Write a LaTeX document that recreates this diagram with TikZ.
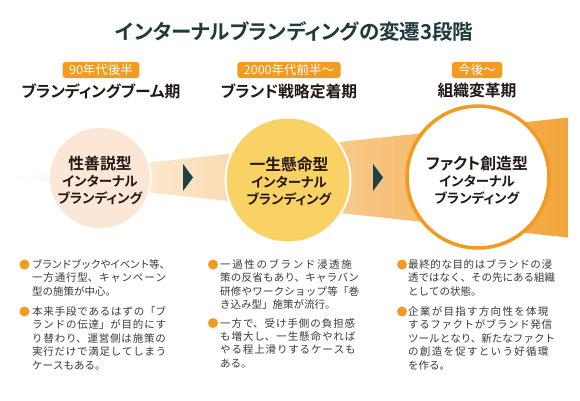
\documentclass[tikz,border=0pt]{standalone}
\usepackage{fontspec}
\setmainfont{Noto Sans CJK JP}[BoldFont={Noto Sans CJK JP Bold}]
\newfontfamily\jpp{Noto Sans CJK JP}[BoldFont={Noto Sans CJK JP Bold},RawFeature=+palt]
\definecolor{titleteal}{HTML}{1F3B3E}
\definecolor{orangeM}{HTML}{F29B20}
\definecolor{bandR}{HTML}{F2A43A}
\definecolor{peach}{HTML}{FCE6D5}
\definecolor{gold}{HTML}{FAD164}
\definecolor{triteal}{HTML}{1C4146}
\definecolor{darktext}{HTML}{231815}
\definecolor{bodytext}{HTML}{3A3A3A}
\newcommand{\bodysetup}{\XeTeXlinebreaklocale "ja"\XeTeXlinebreakskip=0pt plus 4pt minus 0.8pt\relax
  \tolerance=10000 \hbadness=10000 \leftskip=0pt \rightskip=0pt \parfillskip=0pt plus 1fil\relax}
\begin{document}
\begin{tikzpicture}[x=1pt,y=-1pt,
  titlestyle/.style={font=\jpp\bfseries\fontsize{20.5pt}{24pt}\selectfont, text=titleteal, inner sep=0pt},
  badge/.style={fill=orangeM, rounded corners=3pt, text=white, font=\fontsize{12.5pt}{14pt}\selectfont, minimum height=16pt, inner xsep=6.5pt, inner ysep=0pt},
  period/.style={font=\jpp\bfseries\fontsize{15.8pt}{18pt}\selectfont, text=darktext, inner sep=0pt},
  stage/.style={circle, inner sep=0pt, minimum size=#1},
  circtext/.style={align=center, text=darktext, inner sep=0pt, font=\jpp\bfseries\fontsize{13.5pt}{17pt}\selectfont},
  mainf/.style={},
  dot/.style={circle, fill=orangeM, minimum size=10pt, inner sep=0pt},
  body/.style={anchor=base west, inner sep=0pt, text width=#1, text=bodytext, font=\fontsize{10.5pt}{13.4pt}\selectfont},
  arrowtri/.style={fill=triteal}
]
\useasboundingbox (0,0) rectangle (580,400);
\fill[white] (0,0) rectangle (580,400);

% title
\node[titlestyle] (title) at (294.5,32) {インターナルブランディングの変遷3段階};

% badges and periods
\node[badge] (bd1) at (101,70) {90年代後半};
\node[badge] (bd2) at (289,70) {2000年代前半～};
\node[badge] (bd3) at (477,70) {今後～};
\node[period] (pr1) at (101,91) {ブランディングブーム期};
\node[period] (pr2) at (289,91) {ブランド戦略定着期};
\node[period] (pr3) at (477,91) {組織変革期};

% band
\shade[left color=white, right color=bandR] (10,177.5) -- (568,117.5) -- (568,237.5) -- cycle;

% arrows
\fill[arrowtri] (183,164) -- (193,177.5) -- (183,191) -- cycle;
\fill[arrowtri] (373,164) -- (383,177.5) -- (373,191) -- cycle;

% circles
\node[stage=102pt, fill=peach, draw=white, line width=1.5pt] (c1) at (100,178) {};
\node[stage=125pt, fill=gold, draw=white, line width=2pt] (c2) at (288,180) {};
\node[stage=142pt, fill=white, draw=orangeM, line width=3.5pt] (c3) at (478,177) {};

\node[circtext] (t1) at (100,180) {{\fontsize{15.8pt}{17pt}\selectfont 性善説型}\\インターナル\\ブランディング};
\node[circtext] (t2) at (289,181) {{\fontsize{15.8pt}{17pt}\selectfont 一生懸命型}\\インターナル\\ブランディング};
\node[circtext] (t3) at (477,180) {{\fontsize{15.8pt}{17pt}\selectfont ファクト創造型}\\インターナル\\ブランディング};

% column 1
\node[dot] (d11) at (24.5,264.5) {};
\node[body=138pt] (p11) at (32,268.5) {\bodysetup ブランドブックやイベント等、\linebreak 一方通行型、キャンペーン\linebreak 型の施策が中心。};
\node[dot] (d12) at (24.5,311.5) {};
\node[body=138pt] (p12) at (32,315.5) {\bodysetup 本来手段であるはずの「ブ\linebreak ランドの伝達」が目的にす\linebreak り替わり、運営側は施策の\linebreak 実行だけで満足してしまう\linebreak ケースもある。};

% column 2
\node[dot] (d21) at (213,264.5) {};
\node[body=140pt] (p21) at (220,268.5) {\bodysetup 一過性のブランド浸透施\linebreak 策の反省もあり、キャラバン\linebreak 研修やワークショップ等「巻\linebreak き込み型」施策が流行。};
\node[dot] (d22) at (213,323) {};
\node[body=140pt] (p22) at (220,327) {\bodysetup 一方で、受け手側の負担感\linebreak も増大し、一生懸命やれば\linebreak やる程上滑りするケースも\linebreak ある。};

% column 3
\node[dot] (d31) at (402,264.5) {};
\node[body=147pt] (p31) at (408,268.5) {\bodysetup 最終的な目的はブランドの浸\linebreak 透ではなく、その先にある組織\linebreak としての状態。};
\node[dot] (d32) at (402,311.5) {};
\node[body=147pt] (p32) at (408,315.5) {\bodysetup 企業が目指す方向性を体現\linebreak するファクトがブランド発信\linebreak ツールとなり、新たなファクト\linebreak の創造を促すという好循環\linebreak を作る。};
\end{tikzpicture}
\end{document}
